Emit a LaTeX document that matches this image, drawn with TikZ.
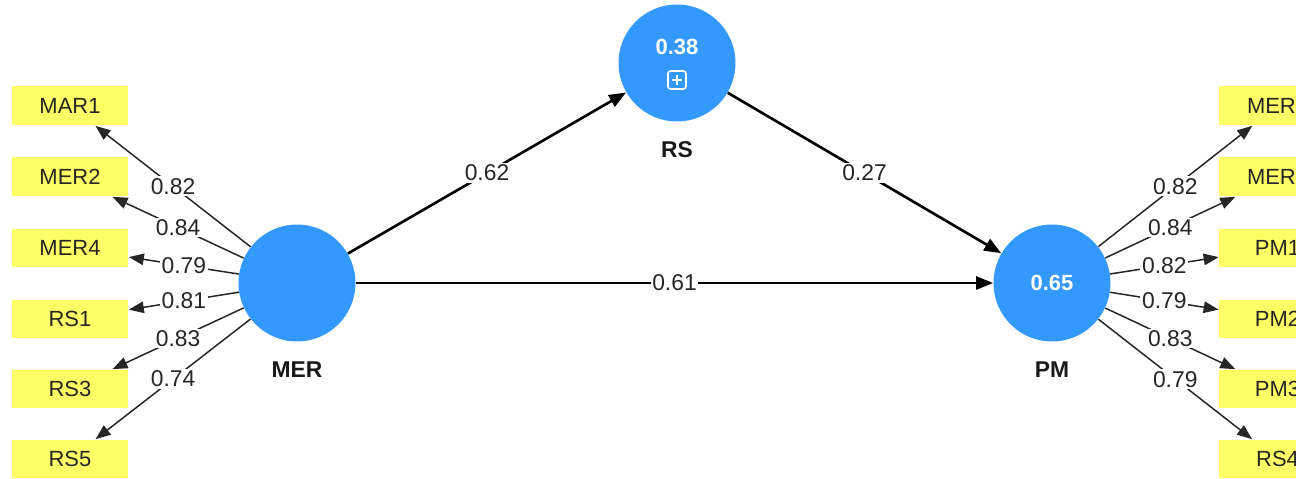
\documentclass[tikz,border=0pt]{standalone}
\usepackage{fontspec}
\setmainfont{Liberation Sans}
\usetikzlibrary{arrows.meta,calc}
\definecolor{lvblue}{RGB}{51,153,255}
\definecolor{indyellow}{RGB}{255,255,102}

\begin{document}
\begin{tikzpicture}[x=0.02cm, y=-0.02cm,
  latent/.style={circle, fill=lvblue, minimum size=2.34cm, inner sep=0pt, text=white, font=\fontsize{12.5}{14}\selectfont\bfseries},
  indic/.style={fill=indyellow, minimum width=2.34cm, minimum height=0.78cm, inner sep=0pt, text=black!85, font=\fontsize{12.5}{14}\selectfont},
  lvname/.style={text=black!90, font=\fontsize{13}{15}\selectfont\bfseries},
  inpath/.style={line width=1.5pt, -{Triangle[length=0.34cm,width=0.26cm]}},
  load/.style={line width=0.85pt, draw=black!85, -{Triangle[length=0.3cm,width=0.23cm]}},
  coef/.style={fill=white, inner sep=1pt, text=black!85, font=\fontsize{13}{15}\selectfont}]
\useasboundingbox (0,0) rectangle (1296,479);
\clip (0,0) rectangle (1296,479);

% latent variables
\node[latent] (MER) at (297,283) {};
\node[latent] (RS) at (677,63) {};
\node[latent] (PM) at (1052,283) {0.65};
\node[font=\fontsize{12.5}{14}\selectfont\bfseries, text=white] (RSr2) at (677,47) {0.38};
\coordinate (RSplus) at (677,80);
\draw[white, line width=0.9pt, rounded corners=1.5pt] ($(RSplus)+(-9,-9)$) rectangle ($(RSplus)+(9,9)$);
\draw[white, line width=0.9pt] ($(RSplus)+(-5,0)$) -- ($(RSplus)+(5,0)$) ($(RSplus)+(0,-5)$) -- ($(RSplus)+(0,5)$);
\node[lvname] (MERname) at (297,370) {MER};
\node[lvname] (RSname) at (677,150) {RS};
\node[lvname] (PMname) at (1052,370) {PM};

% indicators left
\node[indic] (MAR1) at (70,106) {MAR1};
\node[indic] (MER2) at (70,177) {MER2};
\node[indic] (MER4) at (70,248) {MER4};
\node[indic] (RS1) at (70,319) {RS1};
\node[indic] (RS3) at (70,389) {RS3};
\node[indic] (RS5) at (70,459) {RS5};

% indicators right (cut by the frame)
\node[indic] (MER1) at (1277.5,106) {MER1};
\node[indic] (MER3) at (1277.5,177) {MER3};
\node[indic] (PM1) at (1277.5,248) {PM1};
\node[indic] (PM2) at (1277.5,319) {PM2};
\node[indic] (PM3) at (1277.5,389) {PM3};
\node[indic] (RS4) at (1277.5,459) {RS4};

\draw[load] (MER) -- node[coef] {0.82} (MAR1);
\draw[load] (MER) -- node[coef] {0.84} (MER2);
\draw[load] (MER) -- node[coef] {0.79} (MER4);
\draw[load] (MER) -- node[coef] {0.81} (RS1);
\draw[load] (MER) -- node[coef] {0.83} (RS3);
\draw[load] (MER) -- node[coef] {0.74} (RS5);

\draw[load] (PM) -- node[coef] {0.82} (MER1);
\draw[load] (PM) -- node[coef] {0.84} (MER3);
\draw[load] (PM) -- node[coef] {0.82} (PM1);
\draw[load] (PM) -- node[coef] {0.79} (PM2);
\draw[load] (PM) -- node[coef] {0.83} (PM3);
\draw[load] (PM) -- node[coef] {0.79} (RS4);

% structural paths
\draw[inpath] (MER) -- node[coef] {0.62} (RS);
\draw[inpath] (RS) -- node[coef] {0.27} (PM);
\draw[inpath] (MER) -- node[coef] {0.61} (PM);

\end{tikzpicture}
\end{document}
